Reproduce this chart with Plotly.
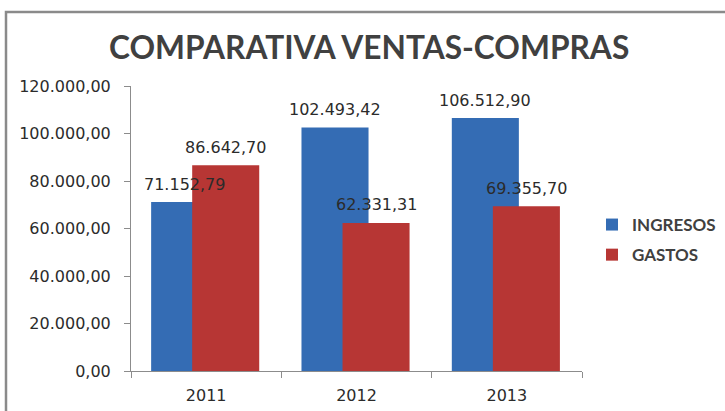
import plotly.graph_objects as go

years = ["2011", "2012", "2013"]
ingresos = [71152.79, 102493.42, 106512.90]
gastos = [86642.70, 62331.31, 69355.70]
series_names = ["INGRESOS", "GASTOS"]
y_ticks = [0, 20000, 40000, 60000, 80000, 100000, 120000]

BLUE = "#346CB4"
RED = "#B73634"
BAR_W = 0.446
OFF_BLUE = -0.366
OFF_RED = -0.093


def fmt(v):
    s = f"{v:,.2f}"
    return s.replace(",", "X").replace(".", ",").replace("X", ".")


fig = go.Figure()
fig.add_trace(go.Bar(
    x=years, y=ingresos, name=series_names[0], legendgroup="g1",
    width=[BAR_W] * len(years), offset=[OFF_BLUE] * len(years),
    marker=dict(color=BLUE, line=dict(width=0)),
))
fig.add_trace(go.Bar(
    x=years, y=gastos, name=series_names[1], legendgroup="g2",
    width=[BAR_W] * len(years), offset=[OFF_RED] * len(years),
    marker=dict(color=RED, line=dict(width=0)),
))

annotations = []
for i in range(len(years)):
    for vals, off in ((ingresos, OFF_BLUE), (gastos, OFF_RED)):
        annotations.append(dict(
            x=i + off + BAR_W / 2, y=vals[i], xref="x", yref="y",
            text=fmt(vals[i]), showarrow=False, yanchor="middle",
            yshift=18, font=dict(family="DejaVu Sans", size=16, color="#2b2b2b"),
        ))

annotations.append(dict(
    x=(369 - 131) / 451, y=(371 - 47) / 285, xref="paper", yref="paper",
    text="COMPARATIVA VENTAS-COMPRAS", showarrow=False,
    xanchor="center", yanchor="middle",
    font=dict(family="Lato", size=31.7, color="#404040", weight="bold"),
))

fig.update_layout(
    width=725, height=411, autosize=False,
    margin=dict(l=131, r=143, t=86, b=40),
    paper_bgcolor="white", plot_bgcolor="white",
    barmode="overlay",
    separators=",.",
    showlegend=True,
    legend=dict(
        xref="container", yref="container",
        x=592 / 725, y=1 - 207 / 411, xanchor="left", yanchor="top",
        font=dict(family="Lato", size=17, color="#404040", weight="bold"),
        tracegroupgap=5, itemwidth=30, bgcolor="rgba(0,0,0,0)",
    ),
    annotations=annotations,
    shapes=[dict(
        type="rect", xref="paper", yref="paper",
        x0=-125 / 451, x1=2.0, y0=-1.0, y1=359 / 285,
        line=dict(color="#8a8a8a", width=2.5), layer="below",
    )],
)

fig.update_xaxes(
    type="category", range=[-0.5, 2.5],
    showline=True, linecolor="#8c8c8c", linewidth=1,
    ticks="outside", tickson="boundaries", ticklen=6, tickcolor="#8c8c8c",
    showgrid=False, zeroline=False, automargin=False,
    ticklabelstandoff=10,
    tickfont=dict(family="DejaVu Sans", size=16, color="#2b2b2b"),
)
fig.update_yaxes(
    range=[0, 120000], tickvals=y_ticks, tickformat=",.2f",
    showline=True, linecolor="#8c8c8c", linewidth=1,
    ticks="outside", ticklen=6, tickcolor="#8c8c8c",
    showgrid=False, zeroline=False, automargin=False,
    ticklabelstandoff=10,
    tickfont=dict(family="DejaVu Sans", size=16, color="#2b2b2b"),
)

fig.write_html(
    "out.html",
    config={"displayModeBar": False},
    post_script="document.body.style.margin='0';",
)
